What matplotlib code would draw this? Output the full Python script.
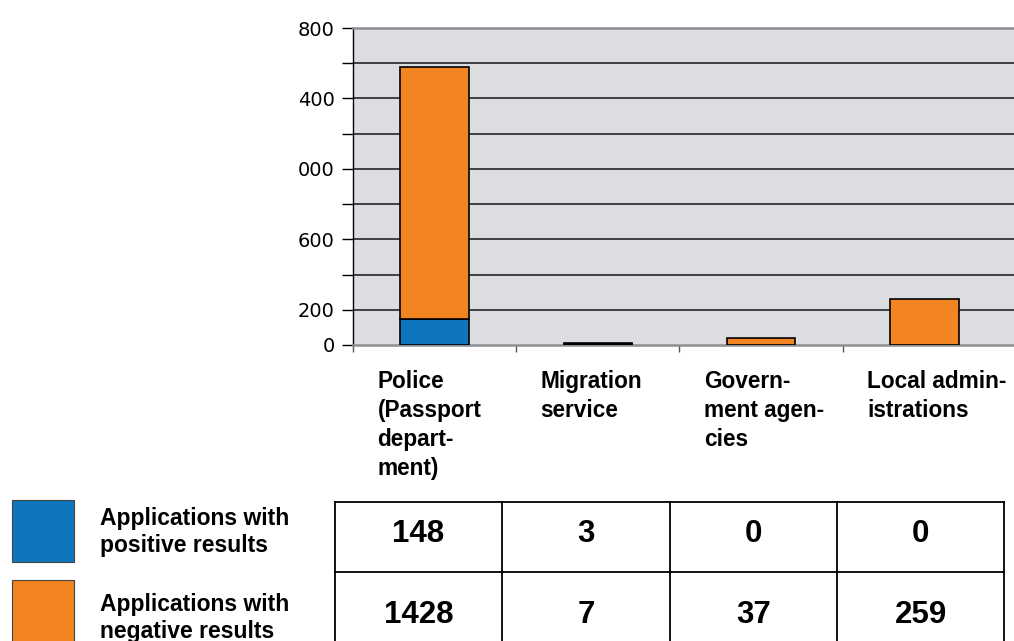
import matplotlib
matplotlib.use("Agg")
import matplotlib.pyplot as plt
from matplotlib.patches import Rectangle
from matplotlib.lines import Line2D

# data
categories = ["Police\n(Passport\ndepart-\nment)", "Migration\nservice",
              "Govern-\nment agen-\ncies", "Local admin-\nistrations"]
positive = [148, 3, 0, 0]
negative = [1428, 7, 37, 259]
y_ticks = [0, 200, 400, 600, 800, 1000, 1200, 1400, 1600, 1800]
y_labels = ["0", "200", "", "600", "", "000", "", "400", "", "800"]
legend_labels = ["Applications with\npositive results",
                 "Applications with\nnegative results"]

BLUE = "#0e76bc"
ORANGE = "#f28422"
BG = "#dcdde0"

W, H = 1014, 641
fig = plt.figure(figsize=(W / 100, H / 100), dpi=100)


def fx(px):
    return px / W


def fy(py):
    return 1 - py / H


# main chart
ax = fig.add_axes([fx(353), fy(345), fx(1014 - 353), (345 - 28) / H])
ax.set_facecolor(BG)
x = list(range(len(categories)))
ax.bar(x, positive, width=0.42, color=BLUE, edgecolor="black", linewidth=1.2, zorder=3)
ax.bar(x, negative, bottom=positive, width=0.42, color=ORANGE,
       edgecolor="black", linewidth=1.2, zorder=3)
ax.hlines(y_ticks[1:-1], -0.5, 3.6, color="#333333", linewidth=1.3, zorder=1)
ax.set_xlim(-0.5, 3.55)
ax.set_ylim(y_ticks[0], y_ticks[-1])

for s in ["top", "bottom"]:
    ax.spines[s].set_color("#8c9094")
    ax.spines[s].set_linewidth(1.8)
ax.spines["right"].set_visible(False)
ax.spines["left"].set_color("black")
ax.spines["left"].set_linewidth(1.0)

ax.set_yticks(y_ticks)
ax.set_yticklabels(y_labels, family="DejaVu Sans", fontsize=14)
ax.tick_params(axis="y", length=8, width=1, pad=5, color="black")
ax.set_xticks([-0.5, 0.5, 1.5, 2.5])
ax.set_xticklabels([])
ax.tick_params(axis="x", length=5, width=1, color="#555555")

# category labels
for i, lab in enumerate(categories):
    ax.text(i - 0.35, -25 / 317, lab, transform=ax.get_xaxis_transform(),
            ha="left", va="top", fontsize=16.3, fontweight="bold",
            family="Liberation Sans", linespacing=1.33)

# legend boxes
colors = [BLUE, ORANGE]
box_tops = [500, 580]
text_tops = [507, 593]
for c, top, ty, lab in zip(colors, box_tops, text_tops, legend_labels):
    fig.add_artist(Rectangle((fx(12), fy(top + 62)), fx(62), 62 / H,
                             facecolor=c, edgecolor="#444444", linewidth=0.8))
    fig.text(fx(100), fy(ty), lab, ha="left", va="top", fontsize=16.5,
             fontweight="bold", family="Liberation Sans", linespacing=1.2)

# table
col_edges = [335, 502, 670, 837, 1004]
row_edges = [502, 572, 641]
for cx in col_edges:
    fig.add_artist(Line2D([fx(cx), fx(cx)], [fy(row_edges[0]), fy(row_edges[-1])],
                          color="black", linewidth=1.3))
for ry in row_edges[:-1]:
    fig.add_artist(Line2D([fx(col_edges[0]), fx(col_edges[-1])], [fy(ry), fy(ry)],
                          color="black", linewidth=1.3))
row_centers = [534, 615]
for row, yc in zip([positive, negative], row_centers):
    for j, v in enumerate(row):
        xc = (col_edges[j] + col_edges[j + 1]) / 2
        fig.text(fx(xc), fy(yc), str(v), ha="center", va="center",
                 fontsize=22.5, fontweight="bold", family="Liberation Sans")

fig.savefig("out.png", dpi=100)
